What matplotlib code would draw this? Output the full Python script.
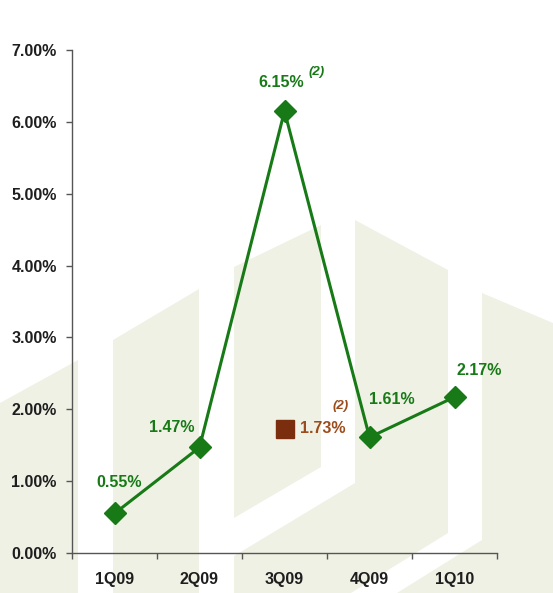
import matplotlib
matplotlib.use("Agg")
import matplotlib.pyplot as plt
from matplotlib.patches import Polygon

# --- data -------------------------------------------------------------
quarters = ["1Q09", "2Q09", "3Q09", "4Q09", "1Q10"]
ratio = [0.55, 1.47, 6.15, 1.61, 2.17]          # % values, green series
adjusted_quarter = "3Q09"
adjusted_value = 1.73                             # % value, brown marker
y_ticks = [0, 1, 2, 3, 4, 5, 6, 7]
y_tick_labels = ["0.00%", "1.00%", "2.00%", "3.00%", "4.00%", "5.00%", "6.00%", "7.00%"]
point_labels = ["0.55%", "1.47%", "6.15%", "1.61%", "2.17%"]
adjusted_label = "1.73%"
note_mark = "(2)"

GREEN = "#177a17"
BROWN_MARK = "#7a2e0e"
BROWN_TEXT = "#9c4c1c"
WATERMARK = "#f0f1e5"

plt.rcParams["font.family"] = ["Liberation Sans", "DejaVu Sans"]

W, H = 553, 593
fig = plt.figure(figsize=(W / 100, H / 100), dpi=100)
fig.patch.set_facecolor("white")

# --- background logo watermark (pixel coordinates, y down) -------------
bg = fig.add_axes([0, 0, 1, 1], zorder=0)
bg.set_xlim(0, W)
bg.set_ylim(H, 0)
bg.axis("off")
shapes = [
    [(0, 403), (78, 360), (78, 593), (0, 593)],
    [(113, 340), (199, 289), (199, 593), (113, 593)],
    [(234, 267), (321, 225), (321, 467), (234, 518)],
    [(355, 220), (448, 270), (448, 533), (351, 593), (234, 593), (234, 556), (355, 483)],
    [(482, 293), (553, 323), (553, 593), (397, 593), (482, 540)],
]
for pts in shapes:
    bg.add_patch(Polygon(pts, closed=True, facecolor=WATERMARK, edgecolor="none"))

# --- main chart -------------------------------------------------------
ax = fig.add_axes([72 / W, 1 - 553 / H, (497 - 72) / W, (553 - 50) / H], zorder=1)
ax.patch.set_alpha(0)

x = list(range(len(quarters)))
ax.plot(x, ratio, color=GREEN, lw=2.2, marker="D", markersize=11.5,
        markerfacecolor=GREEN, markeredgecolor=GREEN, zorder=3)

xa = quarters.index(adjusted_quarter)
ax.plot([xa], [adjusted_value], linestyle="none", marker="s", markersize=12.5,
        color=BROWN_MARK, zorder=3)

ax.set_xlim(-0.5, len(quarters) - 0.5)
ax.set_ylim(0, 7)
ax.set_yticks(y_ticks)
ax.set_yticklabels(y_tick_labels)
ax.set_xticks([i - 0.5 for i in range(len(quarters) + 1)], minor=False)
ax.set_xticklabels([""] * (len(quarters) + 1))
ax.set_xticks(x, minor=True)
ax.set_xticklabels(quarters, minor=True)

for side in ("top", "right"):
    ax.spines[side].set_visible(False)
for side in ("left", "bottom"):
    ax.spines[side].set_color("#555555")
    ax.spines[side].set_linewidth(1.0)

ax.tick_params(axis="y", direction="out", length=4, width=1, color="#555555",
               pad=7, labelsize=11.5, labelcolor="#1e1e1e")
ax.tick_params(axis="x", which="major", direction="out", length=4, width=1,
               color="#555555")
ax.tick_params(axis="x", which="minor", length=0, pad=14, labelsize=11.5,
               labelcolor="#1e1e1e")
for lab in ax.get_yticklabels() + ax.get_xticklabels(minor=True):
    lab.set_fontweight("bold")

# value labels (offsets in pixels from each marker)
offsets = [(4.5, 30.5), (-27.5, 20), (-3.5, 29), (22.5, 38), (24.5, 27)]
for xi, v, txt, (dx, dy) in zip(x, ratio, point_labels, offsets):
    ax.annotate(txt, (xi, v), xytext=(dx, dy), textcoords="offset pixels",
                ha="center", va="center", color=GREEN, fontsize=11.5,
                fontweight="bold", zorder=4)

ax.annotate(note_mark, (x[2], ratio[2]), xytext=(32, 39), textcoords="offset pixels",
            ha="center", va="center", color=GREEN, fontsize=9.5,
            fontweight="bold", fontstyle="italic", zorder=4)

ax.annotate(adjusted_label, (xa, adjusted_value), xytext=(15.5, 0),
            textcoords="offset pixels", ha="left", va="center", color=BROWN_TEXT,
            fontsize=11.5, fontweight="bold", zorder=4)
ax.annotate(note_mark, (xa, adjusted_value), xytext=(56.5, 23),
            textcoords="offset pixels", ha="center", va="center", color=BROWN_TEXT,
            fontsize=9.5, fontweight="bold", fontstyle="italic", zorder=4)

fig.savefig("out.png", dpi=100, facecolor="white")
